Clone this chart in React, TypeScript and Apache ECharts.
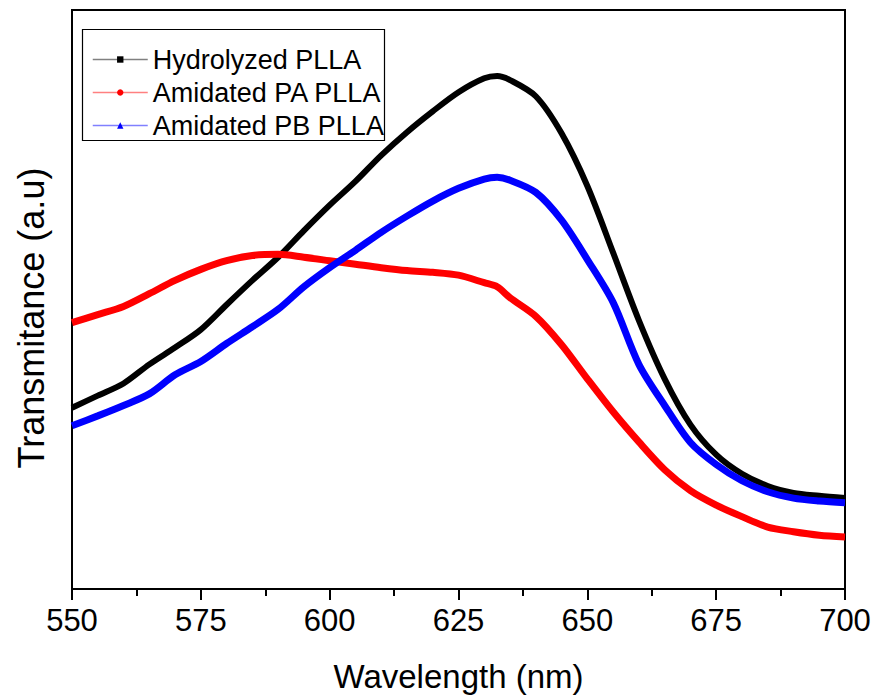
import React, { useEffect, useRef } from "react";
import * as echarts from "echarts";

const wavelengths = [
  550, 555, 560, 565, 570, 575, 580, 585, 590, 595, 600, 605, 610, 615, 620,
  625, 630, 632.5, 635, 640, 645, 650, 655, 660, 665, 670, 675, 680, 685, 690,
  695, 700,
];
const hydrolyzed = [
  31.3, 33.4, 35.5, 38.8, 41.7, 44.8, 49.1, 53.3, 57.3, 61.9, 66.3, 70.4, 74.9,
  78.9, 82.5, 85.8, 88.2, 88.6, 87.9, 85.1, 78.7, 69.6, 58.1, 46.4, 36.3, 28.4,
  23.2, 19.9, 17.8, 16.6, 16.1, 15.7,
];
const amidatedPA = [
  46.0, 47.4, 48.8, 51.0, 53.3, 55.2, 56.7, 57.6, 57.8, 57.3, 56.7, 56.1, 55.5,
  55.0, 54.7, 54.2, 52.9, 52.2, 50.3, 47.1, 42.2, 36.3, 30.6, 25.4, 20.6, 17.0,
  14.5, 12.5, 10.7, 9.9, 9.3, 9.0,
];
const amidatedPB = [
  28.2, 29.9, 31.7, 33.7, 37.0, 39.3, 42.4, 45.3, 48.3, 52.2, 55.5, 58.5, 61.6,
  64.4, 67.0, 69.2, 70.8, 71.1, 70.6, 68.5, 63.7, 56.9, 49.5, 38.8, 31.7, 25.3,
  21.5, 18.7, 16.8, 15.7, 15.2, 14.9,
];
const seriesNames = ["Hydrolyzed PLLA", "Amidated PA PLLA", "Amidated PB PLLA"];
const xTicks = [550, 575, 600, 625, 650, 675, 700];
const yTitle = "Transmitance (a.u)";
const xTitle = "Wavelength (nm)";

const FONT = "'Liberation Sans', Arial, sans-serif";

export default function App() {
  const ref = useRef<HTMLDivElement>(null);
  useEffect(() => {
    if (!ref.current) return;
    const chart = echarts.init(ref.current, undefined, { renderer: "svg" });
    const pair = (ys: number[]) => wavelengths.map((x, i) => [x, ys[i]]);
    const colors = ["#000000", "#ff0000", "#0000ff"];
    const legendLine = ["#808080", "#ff8080", "#8080ff"];
    const symbols = ["rect", "circle", "triangle"];
    const datasets = [hydrolyzed, amidatedPA, amidatedPB];
    chart.setOption({
      animation: false,
      textStyle: { fontFamily: FONT },
      grid: {
        left: 72,
        top: 10,
        width: 773,
        height: 579,
        show: true,
        borderColor: "#000",
        borderWidth: 2,
        backgroundColor: "transparent",
      },
      legend: {
        orient: "vertical",
        left: 92,
        top: 46,
        padding: 0,
        itemWidth: 55,
        itemHeight: 8,
        itemGap: 6,
        textStyle: { fontSize: 27, color: "#000", fontFamily: FONT, lineHeight: 27 },
        data: seriesNames.map((n, i) => ({
          name: n,
          itemStyle: { color: colors[i] },
          lineStyle: { color: legendLine[i], width: 1.5 },
        })),
      },
      xAxis: {
        type: "value",
        min: 550,
        max: 700,
        interval: 25,
        name: xTitle,
        nameLocation: "middle",
        nameGap: 71,
        nameTextStyle: { fontSize: 33, color: "#000", fontFamily: FONT },
        axisLine: { show: true, onZero: false, lineStyle: { color: "#000", width: 2 } },
        axisTick: { show: true, inside: false, length: 11, lineStyle: { color: "#000", width: 2 } },
        minorTick: { show: true, splitNumber: 2, length: 7, lineStyle: { color: "#000", width: 2 } },
        axisLabel: {
          fontSize: 31,
          color: "#000",
          margin: 16,
          fontFamily: FONT,
          customValues: xTicks,
        },
        splitLine: { show: false },
      },
      yAxis: {
        type: "value",
        min: 0,
        max: 100,
        axisLine: { show: true, lineStyle: { color: "#000", width: 2 } },
        axisTick: { show: false },
        axisLabel: { show: false },
        splitLine: { show: false },
      },
      graphic: [
        {
          type: "rect",
          shape: { x: 82.5, y: 29.5, width: 302, height: 111 },
          style: { fill: "none", stroke: "#000", lineWidth: 1.2 },
          z: 100,
        },
        {
          type: "text",
          x: 31,
          y: 318,
          rotation: Math.PI / 2,
          style: {
            text: yTitle,
            fontSize: 36,
            fontFamily: FONT,
            fill: "#000",
            align: "center",
            verticalAlign: "middle",
          },
        },
      ],
      series: datasets.map((d, i) => ({
        name: seriesNames[i],
        type: "line",
        data: pair(d),
        symbol: symbols[i],
        showSymbol: false,
        smooth: 0.3,
        color: colors[i],
        lineStyle: { color: colors[i], width: i === 0 ? 6 : 7 },
      })),
    });
    return () => chart.dispose();
  }, []);
  return (
    <div
      ref={ref}
      style={{ position: "absolute", left: 0, top: 0, width: 875, height: 698 }}
    />
  );
}
